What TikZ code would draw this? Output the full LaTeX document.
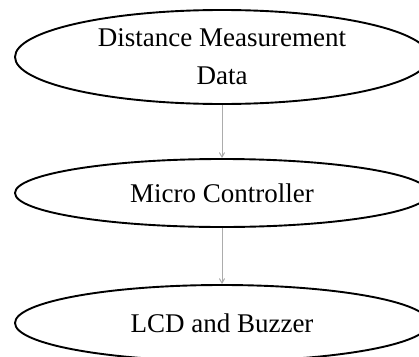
\documentclass[tikz,border=0pt]{standalone}
\usepackage{fontspec}
\setmainfont{Liberation Serif}
\usetikzlibrary{shapes.geometric}
\usetikzlibrary{arrows}

\begin{document}
\begin{tikzpicture}
		[x=1pt, y=1pt, node distance={136pt}, main/.style = {draw, ellipse, line width=1.9pt, inner sep=0pt, minimum width=414pt, align=center, font=\fontsize{27}{38}\selectfont}, flow/.style = {-angle 60, draw=gray!65, line width=1pt}]
	\useasboundingbox (0,0) rectangle (419,-356);
	\node[main, minimum height=94pt] (1) at (222,-57) {Distance Measurement\\Data};
	\node[main, minimum height=68pt] (2) [below of = 1] {Micro Controller};
	\node[main, minimum height=76pt] (3) [below of = 2, node distance={130pt}] {LCD and Buzzer};
	\draw[flow] (1) -- (2);
	\draw[flow] (2) -- (3);
	\end{tikzpicture}
\end{document}
